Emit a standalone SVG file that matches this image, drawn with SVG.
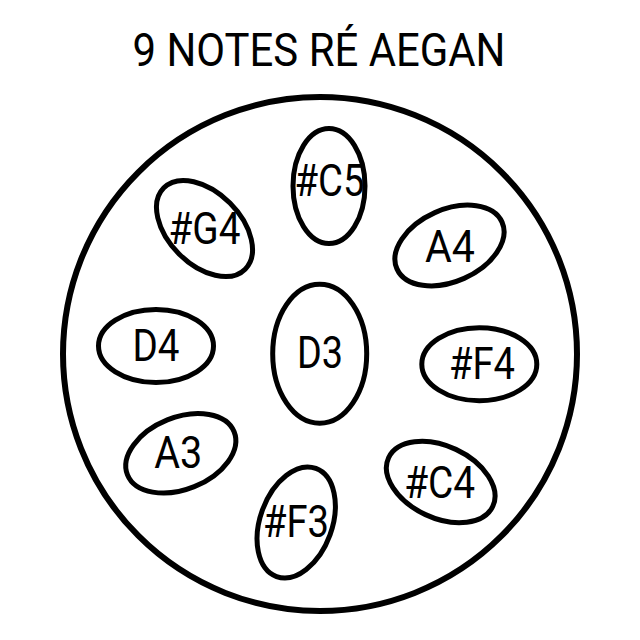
<svg xmlns="http://www.w3.org/2000/svg" width="640" height="640" viewBox="0 0 640 640">
  <style>
    .pan { fill: none; stroke: #000; stroke-width: 6; }
    .note { fill: none; stroke: #000; stroke-width: 5; }
    .lbl { font-family: Roboto, "Liberation Sans", sans-serif; font-size: 44px; fill: #000; text-anchor: middle; }
    .title { font-family: Roboto, "Liberation Sans", sans-serif; font-size: 46px; fill: #000; text-anchor: middle; }
  </style>
  <rect width="640" height="640" fill="#fff"/>
  <text class="title" x="319" y="66" textLength="373" lengthAdjust="spacingAndGlyphs">9 NOTES RÉ AEGAN</text>
  <g id="pan">
    <circle class="pan" cx="320" cy="354" r="257"/>
  </g>
  <g id="connectors"></g>
  <g id="note-D3">
    <ellipse class="note" cx="319.7" cy="353.7" rx="47" ry="69.5"/>
    <text class="lbl" x="320" y="368" textLength="46" lengthAdjust="spacingAndGlyphs">D3</text>
  </g>
  <g id="note-C5s">
    <ellipse class="note" cx="329" cy="186" rx="36" ry="57.5"/>
    <text class="lbl" x="329.5" y="196" textLength="70" lengthAdjust="spacingAndGlyphs">#C5</text>
  </g>
  <g id="note-G4s">
    <ellipse class="note" cx="204.5" cy="228.5" rx="57.5" ry="36" transform="rotate(45 204.5 228.5)"/>
    <text class="lbl" x="204.5" y="244" textLength="72" lengthAdjust="spacingAndGlyphs">#G4</text>
  </g>
  <g id="note-A4">
    <ellipse class="note" cx="449.5" cy="245.5" rx="57.5" ry="36" transform="rotate(-24 449.5 245.5)"/>
    <text class="lbl" x="450" y="262" textLength="50" lengthAdjust="spacingAndGlyphs">A4</text>
  </g>
  <g id="note-D4">
    <ellipse class="note" cx="156" cy="346" rx="57.5" ry="36.5"/>
    <text class="lbl" x="156" y="361" textLength="47" lengthAdjust="spacingAndGlyphs">D4</text>
  </g>
  <g id="note-F4s">
    <ellipse class="note" cx="479.3" cy="364.2" rx="57.5" ry="36.5"/>
    <text class="lbl" x="482" y="379" textLength="66" lengthAdjust="spacingAndGlyphs">#F4</text>
  </g>
  <g id="note-A3">
    <ellipse class="note" cx="180.8" cy="453.3" rx="57.5" ry="36" transform="rotate(-22 180.8 453.3)"/>
    <text class="lbl" x="178.3" y="468" textLength="48" lengthAdjust="spacingAndGlyphs">A3</text>
  </g>
  <g id="note-F3s">
    <ellipse class="note" cx="296.2" cy="522.5" rx="57.5" ry="36" transform="rotate(-70 296.2 522.5)"/>
    <text class="lbl" x="296" y="537" textLength="66" lengthAdjust="spacingAndGlyphs">#F3</text>
  </g>
  <g id="note-C4s">
    <ellipse class="note" cx="440.7" cy="482" rx="57.5" ry="36" transform="rotate(25 440.7 482)"/>
    <text class="lbl" x="439.7" y="498" textLength="71" lengthAdjust="spacingAndGlyphs">#C4</text>
  </g>
</svg>
